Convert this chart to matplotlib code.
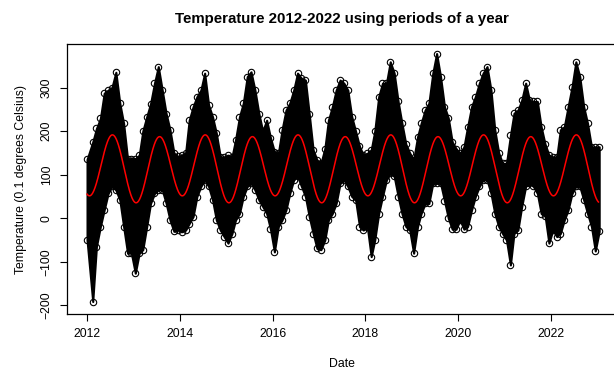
import datetime as dt
import numpy as np
import matplotlib
matplotlib.use("Agg")
import matplotlib.pyplot as plt
import matplotlib.dates as mdates

plt.rcParams["font.family"] = ["Liberation Sans", "DejaVu Sans"]

# monthly envelope of the daily values, Jan 2012 .. Jan 2023 (0.1 degrees Celsius)
UPPER = [
    135, 175, 206, 229, 287, 294, 300, 335, 264, 218, 137, 137,   # 2012
    137, 145, 200, 233, 263, 310, 348, 294, 240, 203, 150, 142,   # 2013
    145, 150, 225, 256, 279, 294, 333, 260, 233, 195, 141, 141,   # 2014
    145, 141, 180, 233, 264, 325, 336, 294, 240, 200, 225, 185,   # 2015
    153, 149, 203, 248, 264, 294, 333, 321, 317, 240, 157, 134,   # 2016
    126, 160, 225, 256, 294, 317, 310, 294, 233, 200, 165, 145,   # 2017
    149, 157, 200, 279, 310, 310, 359, 333, 268, 218, 170, 150,   # 2018
    134, 187, 218, 248, 264, 333, 378, 325, 256, 230, 175, 160,   # 2019
    149, 164, 210, 256, 279, 310, 333, 348, 294, 203, 150, 126,   # 2020
    126, 190, 241, 248, 271, 310, 271, 268, 268, 210, 170, 145,   # 2021
    141, 141, 203, 210, 256, 302, 359, 325, 256, 218, 164, 164,   # 2022
    164,                                                          # 2023
]
LOWER = [
    -50, -191, -65, -19, 19, 57, 73, 65, 42, -19, -80, -80,
    -126, -80, -72, -19, 34, 57, 65, 65, 34, -4, -30, -27,
    -31, -27, -12, 4, 50, 73, 88, 73, 42, -4, -27, -42,
    -57, -35, -4, 11, 50, 73, 80, 65, 42, 27, 11, -25,
    -77, -19, -4, 19, 57, 88, 96, 73, 50, 4, -35, -69,
    -72, -50, -4, 11, 34, 80, 88, 73, 50, 42, -19, -27,
    -19, -88, -50, 11, 50, 88, 103, 96, 50, 11, -19, -27,
    -80, -19, 11, 34, 34, 80, 80, 80, 40, 0, -25, -25,
    -4, -25, -19, 19, 50, 73, 88, 88, 57, 11, -19, -35,
    -50, -107, -35, -27, 27, 73, 80, 73, 57, 11, 5, -57,
    -27, -42, -35, -4, 19, 57, 73, 73, 42, 11, -19, -75,
    -30,
]

# harmonic regression: intercept, annual (cos, sin), two-year (cos, sin); t in years from 2012-01-01
FIT_INTERCEPT = 116.4
FIT_ANNUAL = (-68.4, -25.0)
FIT_BIENNIAL = (7.5, 3.4)

START = dt.date(2012, 1, 1)
month_dates = [dt.date(2012 + i // 12, i % 12 + 1, 15) for i in range(len(UPPER))]
month_dates[0] = START
days = [START + dt.timedelta(days=k) for k in range((dt.date(2023, 1, 10) - START).days)]
t = np.array([(d - START).days for d in days]) / 365.25
fit = (FIT_INTERCEPT
       + FIT_ANNUAL[0] * np.cos(2 * np.pi * t) + FIT_ANNUAL[1] * np.sin(2 * np.pi * t)
       + FIT_BIENNIAL[0] * np.cos(np.pi * t) + FIT_BIENNIAL[1] * np.sin(np.pi * t))


def yfrac_date(y):
    base = dt.date(int(np.floor(y)), 1, 1)
    return base + dt.timedelta(days=(y - np.floor(y)) * 365.25)


W, H = 614, 374
fig = plt.figure(figsize=(W / 100, H / 100), dpi=100)
ax = fig.add_axes([66.7 / W, 1 - 314 / H, (618 - 66.7) / W, (314 - 44) / H])

ax.fill_between(month_dates, LOWER, UPPER, color="black", lw=1.5, edgecolor="black")
for env in (UPPER, LOWER):
    ax.plot(month_dates, env, "o", mfc="none", mec="black", ms=4.6, mew=0.8)
ax.plot(days, fit, color="red", lw=1.1)

ax.set_xlim(yfrac_date(2011.562), yfrac_date(2023.444))
ax.set_ylim(-219.5, 399.8)
ax.xaxis.set_major_locator(mdates.YearLocator(2))
ax.xaxis.set_major_formatter(mdates.DateFormatter("%Y"))
ax.set_yticks([-200, -100, 0, 100, 200, 300])
for lab in ax.get_yticklabels():
    lab.set_rotation(90)
    lab.set_va("center")
ax.tick_params(direction="out", length=5, width=0.8, labelsize=8.8, pad=5)
for s in ax.spines.values():
    s.set_linewidth(0.9)

ax.set_xlabel("Date", fontsize=8.8, labelpad=13)
ax.set_ylabel("Temperature (0.1 degrees Celsius)", fontsize=8.8, labelpad=10)
ax.set_title("Temperature 2012-2022 using periods of a year", fontsize=10.8,
             fontweight="bold", pad=15)

fig.savefig("out.png", dpi=100)
